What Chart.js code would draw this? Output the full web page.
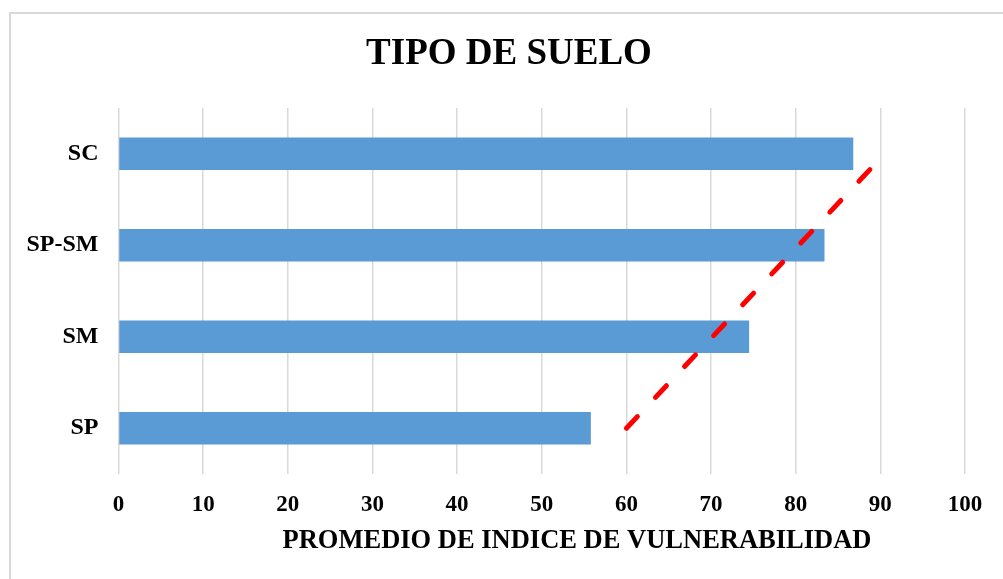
<!DOCTYPE html>
<html>
<head>
<meta charset="utf-8">
<script src="https://cdn.jsdelivr.net/npm/chart.js@4/dist/chart.umd.min.js"></script>
<style>
  html, body { margin: 0; padding: 0; background: #ffffff; }
  #wrap { position: relative; width: 1003px; height: 579px; overflow: hidden; background: #ffffff; }
  #frame { position: absolute; left: 9px; top: 12px; width: 1100px; height: 700px;
           border-left: 2px solid #d9d9d9; border-top: 2px solid #d9d9d9; pointer-events: none; }
  canvas { position: absolute; left: 0; top: 0; }
</style>
</head>
<body>
<div id="wrap">
  <div id="frame"></div>
  <canvas id="c" width="1003" height="579"></canvas>
</div>
<script>
// ---- data ----
const categories = ['SC', 'SP-SM', 'SM', 'SP'];
const values = [86.8, 83.4, 74.5, 55.8];
const trendX = [60, 88.9];
const trendY = [3, 0.16];   // category positions (0 = SC at top, 3 = SP)
const xTicks = [0, 10, 20, 30, 40, 50, 60, 70, 80, 90, 100];
const chartTitle = 'TIPO DE SUELO';
const xAxisTitle = 'PROMEDIO DE INDICE DE VULNERABILIDAD';

const FONT = '"Liberation Serif", "Times New Roman", serif';

const textPlugin = {
  id: 'textPlugin',
  afterDraw(chart) {
    const ctx = chart.ctx;
    ctx.save();
    ctx.fillStyle = '#000000';
    ctx.textAlign = 'center';
    ctx.textBaseline = 'middle';
    ctx.font = 'bold 37px ' + FONT;
    ctx.fillText(chartTitle, 509, 54);
    ctx.font = 'bold 26.5px ' + FONT;
    ctx.fillText(xAxisTitle, 577, 541);
    ctx.restore();
  }
};

new Chart(document.getElementById('c'), {
  type: 'bar',
  data: {
    labels: categories,
    datasets: [
      {
        type: 'bar',
        data: values,
        xAxisID: 'x',
        yAxisID: 'y',
        backgroundColor: '#5b9bd5',
        borderWidth: 0,
        grouped: false,
        categoryPercentage: 1,
        barPercentage: 0.355,
        order: 1
      },
      {
        type: 'line',
        data: trendX.map((x, i) => ({ x: x, y: trendY[i] })),
        xAxisID: 'x',
        yAxisID: 'y2',
        borderColor: '#ff0000',
        borderWidth: 5,
        borderDash: [16, 26.4],
        borderCapStyle: 'round',
        pointRadius: 0,
        fill: false,
        tension: 0,
        order: 0
      }
    ]
  },
  options: {
    indexAxis: 'y',
    responsive: false,
    animation: false,
    devicePixelRatio: 1,
    layout: { padding: { left: 0, right: 38, top: 108, bottom: 0 } },
    plugins: {
      legend: { display: false },
      tooltip: { enabled: false },
      title: { display: false }
    },
    scales: {
      x: {
        type: 'linear',
        position: 'bottom',
        min: 0,
        max: 100,
        afterBuildTicks(scale) { scale.ticks = xTicks.map(v => ({ value: v })); },
        afterFit(scale) { scale.height = 105; },
        grid: { display: true, color: '#d9d9d9', lineWidth: 1.5, drawTicks: false },
        border: { display: false },
        ticks: {
          color: '#000000',
          padding: 17,
          font: { family: FONT, size: 23, weight: 'bold', lineHeight: 1.2 },
          maxRotation: 0
        }
      },
      y: {
        type: 'category',
        position: 'left',
        afterFit(scale) { scale.width = 118.5; },
        grid: { display: false, drawTicks: false },
        border: { display: false },
        ticks: {
          color: '#000000',
          padding: 20,
          font: { family: FONT, size: 24, weight: 'bold', lineHeight: 1.2 }
        }
      },
      y2: {
        type: 'linear',
        axis: 'y',
        display: false,
        offset: false,
        grace: 0,
        min: -0.5,
        max: 3.5,
        reverse: true
      }
    }
  },
  plugins: [textPlugin]
});
</script>
</body>
</html>
